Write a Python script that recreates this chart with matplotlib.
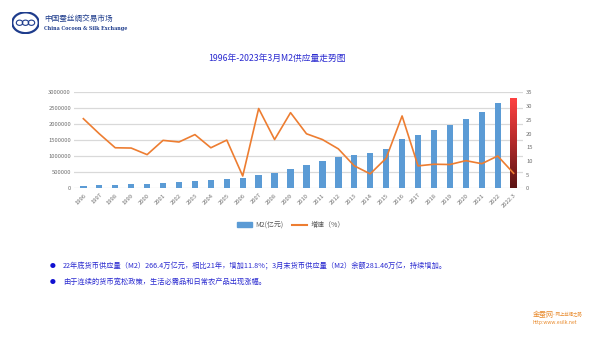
"""
M2 money supply 1996 - 2023.3, bars with growth rate line.
"""
import numpy as np
import matplotlib
matplotlib.use('Agg')
import matplotlib.pyplot as plt
from matplotlib.patches import Ellipse, Circle, Patch
from matplotlib.lines import Line2D

plt.rcParams['font.family'] = ['Noto Sans CJK SC', 'DejaVu Sans']

years = ['1996', '1997', '1998', '1999', '2000', '2001', '2002', '2003',
         '2004', '2005', '2006', '2007', '2008', '2009', '2010', '2011',
         '2012', '2013', '2014', '2015', '2016', '2017', '2018', '2019',
         '2020', '2021', '2022', '2022.3']
m2 = [76000, 95000, 112000, 124000, 136000, 158000, 187000, 221000,
      258000, 294000, 318000, 408000, 473000, 605000, 726000, 858000,
      979000, 1050000, 1100000, 1230000, 1550000, 1670000, 1830000,
      1990000, 2180000, 2390000, 2664000, 2814600]
growth = [25.4, 19.9, 14.8, 14.7, 12.3, 17.5, 16.9, 19.6, 14.8, 17.6,
          4.5, 29.1, 17.8, 27.6, 19.9, 17.8, 14.4, 8.2, 5.3, 11.0, 26.4,
          8.2, 8.8, 8.7, 10.1, 9.0, 11.8, 5.5]
left_ticks = [0, 500000, 1000000, 1500000, 2000000, 2500000, 3000000]
right_ticks = [0, 5, 10, 15, 20, 25, 30, 35]

title = '1996年-2023年3月M2供应量走势图'
notes = ['22年底货币供应量（M2）266.4万亿元，相比21年，增加11.8%；3月末货币供应量（M2）余额281.46万亿，持续增加。',
         '由于连续的货币宽松政策，生活必需品和日常农产品出现涨幅。']

BLUE = '#5b9bd5'
ORANGE = '#ed7d31'
GRID = '#d9d9d9'
TICK = '#6f6f6f'
TEXT_BLUE = '#2b2bd0'

fig = plt.figure(figsize=(6, 3.37), dpi=100)
fig.patch.set_facecolor('white')

ax = fig.add_axes([0.123, 0.441, 0.749, 0.285])
ax2 = ax.twinx()

x = np.arange(len(years))
colors = [BLUE] * (len(years) - 1) + ['none']
bars = ax.bar(x, m2, width=0.4, color=colors, zorder=2)

# gradient fill for the latest bar
last = bars[-1]
grad = np.linspace(0, 1, 100).reshape(-1, 1)
cmap = matplotlib.colors.LinearSegmentedColormap.from_list(
    'rg', ['#5c1414', '#b22a2a', '#ff4242'])
im = ax.imshow(grad, cmap=cmap, aspect='auto', origin='lower',
               extent=[last.get_x(), last.get_x() + last.get_width(),
                       0, last.get_height()], zorder=2)
im.set_clip_path(last)

ax2.plot(x, growth, color=ORANGE, lw=1.2, zorder=3)

ax.set_xlim(-0.6, len(years) - 0.4)
ax.set_ylim(0, 3000000)
ax2.set_ylim(0, 35)
ax.set_yticks(left_ticks)
ax.set_yticklabels([str(t) for t in left_ticks])
ax2.set_yticks(right_ticks)
ax.set_xticks(x)
ax.set_xticklabels(years, rotation=45, ha='right', rotation_mode='anchor')
ax.yaxis.grid(True, color=GRID, lw=0.9, zorder=0)
ax.set_axisbelow(True)
for a in (ax, ax2):
    for s in a.spines.values():
        s.set_visible(False)
    a.tick_params(length=0, labelsize=4.2, colors=TICK, pad=2)
ax.tick_params(axis='x', pad=3)

fig.text(0.462, 0.827, title, ha='center', va='center', fontsize=6.3,
         color=TEXT_BLUE)

handles = [Patch(color=BLUE), Line2D([], [], color=ORANGE, lw=1.5)]
fig.legend(handles, ['M2(亿元)', '增速（%）'], loc='center',
           bbox_to_anchor=(0.485, 0.332), ncol=2, frameon=False,
           fontsize=5, handlelength=2.2, handleheight=0.6,
           columnspacing=1.2, handletextpad=0.5, labelcolor='#595959')

# bullet notes
for i, note in enumerate(notes):
    y = 0.21 - i * 0.047
    fig.text(0.087, y, '●', ha='center', va='center', fontsize=4.2,
             color='#1010d0')
    fig.text(0.105, y, note, ha='left', va='center', fontsize=5.2,
             color=TEXT_BLUE)

# logo in the top left corner
logo = fig.add_axes([0.02, 0.9, 0.045, 0.065])
logo.set_xlim(0, 1)
logo.set_ylim(0, 1)
logo.axis('off')
logo.add_patch(Ellipse((0.5, 0.5), 0.98, 0.95, fill=False, ec='#1e3c8c',
                       lw=1.6))
for cx in (0.28, 0.5, 0.72):
    logo.add_patch(Circle((cx, 0.5), 0.12, fill=False, ec='#1e3c8c', lw=0.8))
fig.text(0.073, 0.944, '中国蚕丝绸交易市场', ha='left', va='center',
         fontsize=5.5, color='#1e3c8c')
fig.text(0.073, 0.915, 'China Cocoon & Silk Exchange', ha='left',
         va='center', fontsize=3.4, color='#1e3c8c', fontweight='bold',
         family='DejaVu Serif')

# site mark bottom right
fig.text(0.888, 0.066, '金蚕网', ha='left', va='center', fontsize=5,
         color='#e8892a')
fig.text(0.922, 0.066, '- 网上丝绸之路', ha='left', va='center',
         fontsize=3.2, color='#e8892a')
fig.text(0.888, 0.042, 'http:www.esilk.net', ha='left', va='center',
         fontsize=3.6, color='#e8892a')

fig.savefig('out.png', dpi=100)
